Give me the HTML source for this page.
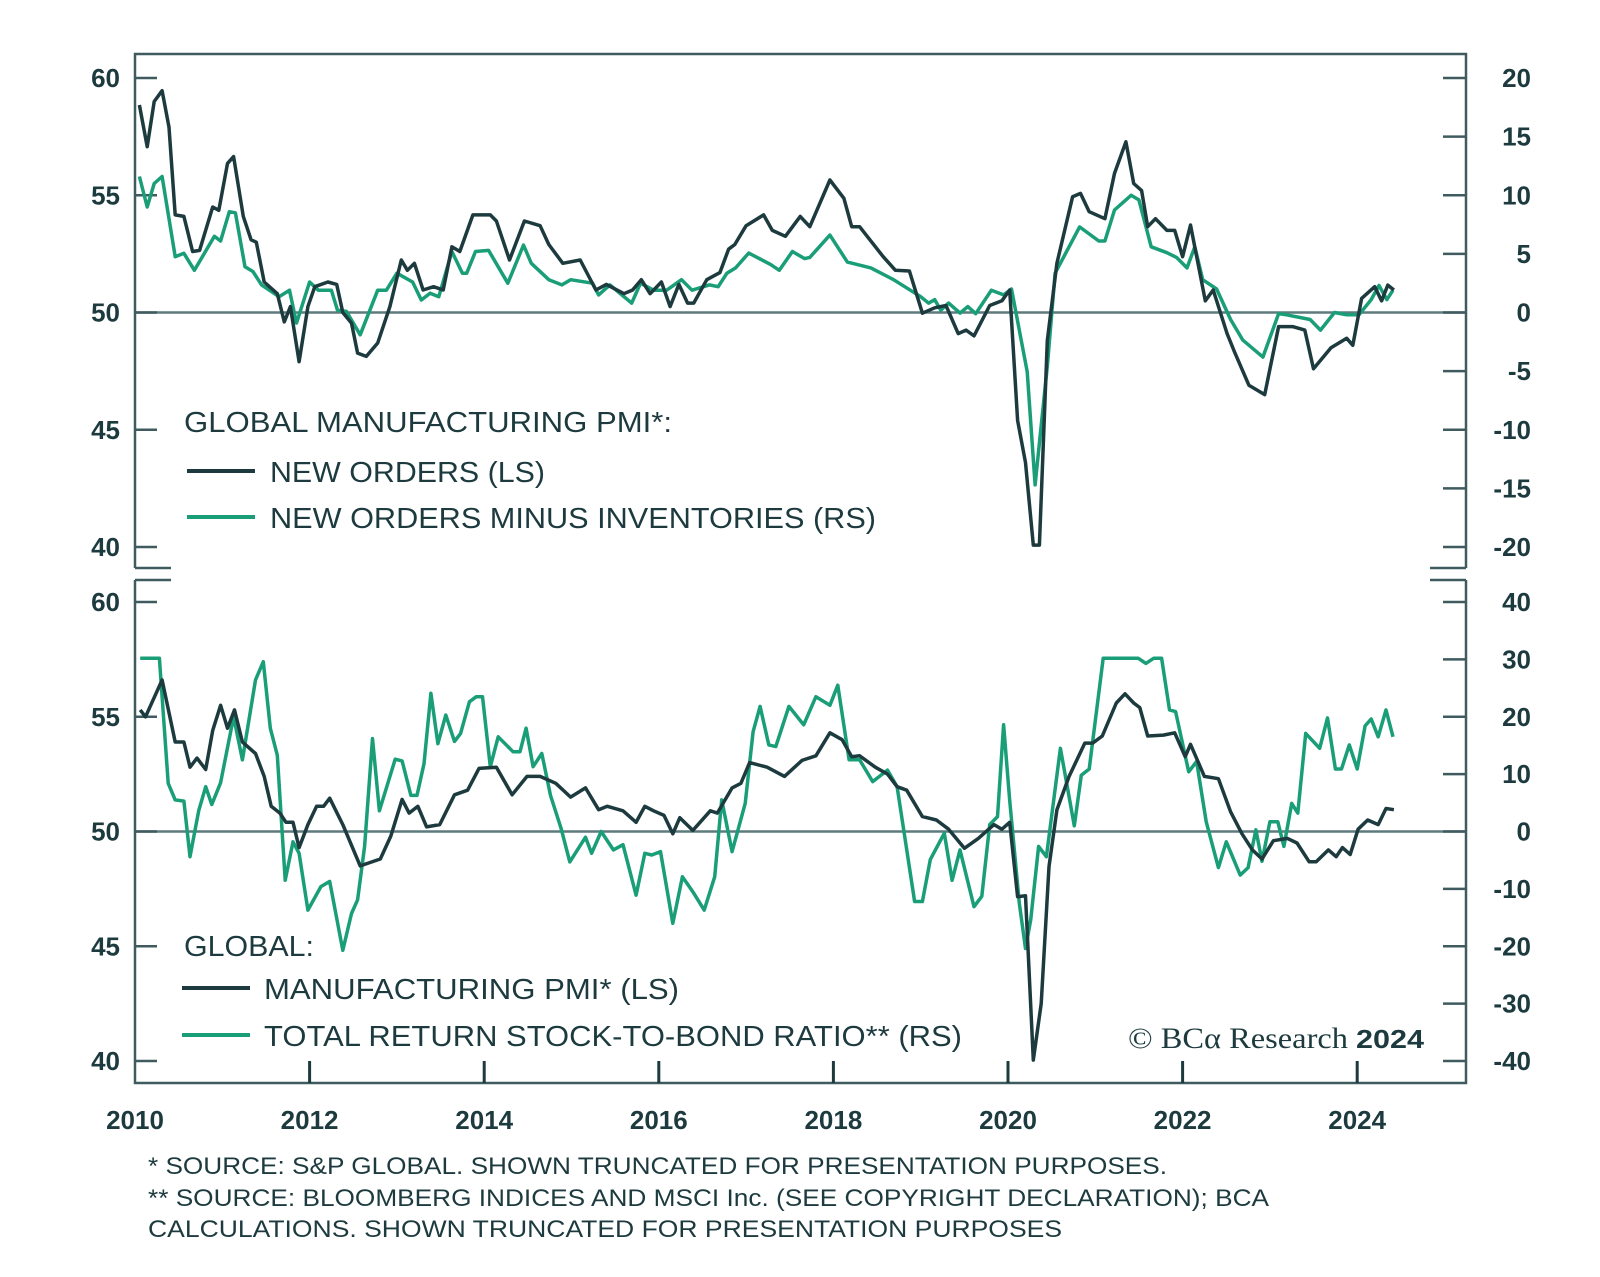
<!DOCTYPE html>
<html><head><meta charset="utf-8"><style>
html,body{margin:0;padding:0;background:#fff;}
svg{display:block;font-family:"Liberation Sans",sans-serif;}
</style></head><body>
<svg id="chart" width="1600" height="1277" viewBox="0 0 1600 1277" xmlns="http://www.w3.org/2000/svg">
<g id="frame"></g>
<g id="lines"></g>
<g id="labels"></g>
<g fill="#1d3b3f" font-size="29">
<text x="184" y="432" textLength="488" lengthAdjust="spacingAndGlyphs">GLOBAL MANUFACTURING PMI*:</text>
<line x1="187" y1="471" x2="255" y2="471" stroke="#1d3b3f" stroke-width="4"/>
<text x="270" y="482" textLength="275" lengthAdjust="spacingAndGlyphs">NEW ORDERS (LS)</text>
<line x1="187" y1="517" x2="255" y2="517" stroke="#1a9e78" stroke-width="4"/>
<text x="270" y="528" textLength="606" lengthAdjust="spacingAndGlyphs">NEW ORDERS MINUS INVENTORIES (RS)</text>
</g>
<g fill="#1d3b3f" font-size="29">
<text x="184" y="956" textLength="130" lengthAdjust="spacingAndGlyphs">GLOBAL:</text>
<line x1="182" y1="988" x2="250" y2="988" stroke="#1d3b3f" stroke-width="4"/>
<text x="264" y="999" textLength="415" lengthAdjust="spacingAndGlyphs">MANUFACTURING PMI* (LS)</text>
<line x1="182" y1="1035" x2="250" y2="1035" stroke="#1a9e78" stroke-width="4"/>
<text x="264" y="1046" textLength="698" lengthAdjust="spacingAndGlyphs">TOTAL RETURN STOCK-TO-BOND RATIO** (RS)</text>
</g>
<g fill="#1d3b3f">
<text x="1128" y="1048" font-family="'Liberation Serif',serif" font-size="30" textLength="220" lengthAdjust="spacingAndGlyphs">© BCα Research</text>
<text x="1356" y="1048" font-size="26" font-weight="bold" textLength="68" lengthAdjust="spacingAndGlyphs">2024</text>
</g>
<g fill="#1d3b3f" font-size="24">
<text x="148" y="1174" textLength="1019" lengthAdjust="spacingAndGlyphs">* SOURCE: S&amp;P GLOBAL. SHOWN TRUNCATED FOR PRESENTATION PURPOSES.</text>
<text x="148" y="1206" textLength="1121" lengthAdjust="spacingAndGlyphs">** SOURCE: BLOOMBERG INDICES AND MSCI Inc. (SEE COPYRIGHT DECLARATION); BCA</text>
<text x="148" y="1237" textLength="914" lengthAdjust="spacingAndGlyphs">CALCULATIONS. SHOWN TRUNCATED FOR PRESENTATION PURPOSES</text>
</g>
</svg>
<script>
// ---- data ----
const noDates=[2010.05,2010.14,2010.22,2010.31,2010.39,2010.46,2010.56,2010.66,2010.74,2010.89,2010.96,2011.06,2011.13,2011.24,2011.33,2011.39,2011.48,2011.63,2011.71,2011.78,2011.88,2011.98,2012.06,2012.21,2012.31,2012.38,2012.48,2012.55,2012.65,2012.78,2012.92,2013.05,2013.12,2013.2,2013.3,2013.42,2013.53,2013.63,2013.72,2013.87,2014.07,2014.14,2014.29,2014.46,2014.64,2014.74,2014.9,2015.1,2015.28,2015.4,2015.6,2015.7,2015.8,2015.9,2016.03,2016.13,2016.23,2016.33,2016.4,2016.55,2016.7,2016.8,2016.87,2017.0,2017.2,2017.3,2017.45,2017.62,2017.73,2017.96,2018.12,2018.21,2018.3,2018.57,2018.71,2018.87,2019.02,2019.16,2019.29,2019.43,2019.52,2019.61,2019.79,2019.93,2020.02,2020.11,2020.2,2020.29,2020.36,2020.45,2020.56,2020.74,2020.83,2020.93,2021.11,2021.22,2021.35,2021.44,2021.53,2021.6,2021.69,2021.82,2021.91,2022.0,2022.09,2022.26,2022.35,2022.51,2022.6,2022.76,2022.94,2023.1,2023.26,2023.4,2023.5,2023.7,2023.88,2023.95,2024.05,2024.2,2024.28,2024.35,2024.42];
const newOrders=[58.85,57.07,59.0,59.46,57.9,54.16,54.1,52.6,52.65,54.5,54.36,56.36,56.65,54.1,53.1,53.0,51.3,50.8,49.6,50.25,47.9,50.25,51.1,51.3,51.2,50.0,49.55,48.27,48.13,48.7,50.25,52.24,51.8,52.1,50.96,51.1,50.96,52.8,52.6,54.16,54.16,53.9,52.24,53.9,53.7,52.9,52.1,52.24,50.96,51.2,50.8,50.96,51.4,50.8,51.3,50.25,51.2,50.4,50.4,51.4,51.7,52.7,52.9,53.7,54.16,53.5,53.25,54.1,53.66,55.65,54.87,53.66,53.66,52.38,51.8,51.77,49.97,50.2,50.3,49.1,49.25,49.0,50.3,50.5,50.96,45.4,43.6,40.08,40.08,48.8,52.1,54.94,55.08,54.3,54.0,55.93,57.28,55.5,55.2,53.66,54.0,53.5,53.5,52.38,53.73,50.5,50.96,49.1,48.27,46.9,46.5,49.4,49.4,49.25,47.6,48.5,48.9,48.6,50.6,51.1,50.5,51.17,50.96];
const nmiDates=[2010.05,2010.14,2010.22,2010.31,2010.46,2010.56,2010.68,2010.91,2010.98,2011.08,2011.15,2011.26,2011.35,2011.45,2011.65,2011.77,2011.85,2012.0,2012.1,2012.25,2012.32,2012.42,2012.58,2012.78,2012.88,2013.0,2013.18,2013.28,2013.38,2013.48,2013.63,2013.75,2013.8,2013.9,2014.05,2014.27,2014.45,2014.54,2014.74,2014.89,2014.99,2015.24,2015.31,2015.44,2015.69,2015.79,2015.94,2016.09,2016.26,2016.38,2016.58,2016.68,2016.78,2016.88,2017.03,2017.28,2017.38,2017.53,2017.67,2017.73,2017.96,2018.16,2018.43,2018.69,2019.0,2019.09,2019.16,2019.23,2019.32,2019.45,2019.54,2019.63,2019.81,2019.95,2020.04,2020.22,2020.31,2020.45,2020.54,2020.82,2021.04,2021.11,2021.22,2021.41,2021.5,2021.64,2021.82,2021.93,2022.05,2022.14,2022.23,2022.39,2022.55,2022.69,2022.92,2023.1,2023.19,2023.46,2023.58,2023.74,2023.88,2024.02,2024.16,2024.25,2024.34,2024.41];
const newMinusInv=[11.6,9.0,11.0,11.6,4.76,5.05,3.6,6.5,6.1,8.6,8.5,3.9,3.5,2.35,1.35,1.9,-0.9,2.6,1.9,1.9,0.2,0.1,-1.9,1.9,1.9,3.35,2.6,1.07,1.65,1.35,5.2,3.35,3.35,5.2,5.3,2.5,5.75,4.2,2.8,2.35,2.8,2.5,1.5,2.35,0.8,2.5,1.9,1.9,2.8,1.9,2.35,2.2,3.35,3.8,5.07,4.1,3.6,5.2,4.6,4.7,6.6,4.3,3.8,2.8,1.35,0.8,1.1,0.2,0.8,-0.05,0.5,-0.1,1.9,1.5,2.0,-5.05,-14.7,-4.6,3.35,7.3,6.1,6.1,8.74,10.0,9.6,5.6,5.1,4.7,3.8,5.6,2.8,2.0,-0.6,-2.35,-3.8,-0.1,-0.2,-0.6,-1.5,0,-0.2,-0.2,1.1,2.3,1.1,1.9,1.65];
const pmiDates=[2010.06,2010.12,2010.31,2010.46,2010.56,2010.63,2010.71,2010.81,2010.89,2010.98,2011.06,2011.14,2011.23,2011.38,2011.48,2011.56,2011.66,2011.73,2011.81,2011.88,2011.98,2012.08,2012.16,2012.23,2012.38,2012.58,2012.81,2012.93,2013.06,2013.14,2013.24,2013.34,2013.49,2013.66,2013.81,2013.94,2014.14,2014.32,2014.49,2014.64,2014.82,2014.99,2015.16,2015.31,2015.41,2015.59,2015.74,2015.84,2015.94,2016.06,2016.16,2016.24,2016.39,2016.59,2016.67,2016.84,2016.94,2017.04,2017.24,2017.44,2017.64,2017.8,2017.96,2018.1,2018.21,2018.3,2018.48,2018.62,2018.73,2018.84,2019.02,2019.18,2019.32,2019.5,2019.66,2019.84,2019.93,2020.02,2020.11,2020.2,2020.29,2020.38,2020.47,2020.56,2020.7,2020.88,2020.97,2021.08,2021.24,2021.34,2021.44,2021.51,2021.6,2021.78,2021.91,2022.03,2022.09,2022.25,2022.41,2022.55,2022.68,2022.8,2022.91,2023.04,2023.2,2023.31,2023.45,2023.53,2023.67,2023.76,2023.83,2023.92,2024.01,2024.12,2024.24,2024.33,2024.42];
const pmi=[55.3,55.0,56.6,53.9,53.9,52.8,53.2,52.7,54.4,55.5,54.5,55.3,53.9,53.4,52.4,51.1,50.8,50.4,50.4,49.3,50.3,51.1,51.1,51.45,50.3,48.5,48.8,49.8,51.4,50.8,51.1,50.2,50.3,51.6,51.8,52.75,52.8,51.6,52.4,52.4,52.1,51.5,51.9,50.95,51.1,50.9,50.4,51.1,50.9,50.7,49.9,50.6,50.05,50.9,50.8,51.9,52.1,53.0,52.8,52.4,53.1,53.3,54.3,54.0,53.26,53.3,52.8,52.5,51.95,51.8,50.65,50.5,50.1,49.27,49.7,50.3,50.1,50.4,47.16,47.2,40.04,42.5,48.47,50.94,52.4,53.85,53.85,54.16,55.6,56.0,55.6,55.4,54.16,54.2,54.3,53.26,53.8,52.4,52.3,50.86,49.9,49.2,48.8,49.6,49.7,49.5,48.68,48.68,49.2,48.9,49.3,49.0,50.1,50.5,50.3,51.0,50.95];
const sbDates=[2010.06,2010.28,2010.38,2010.46,2010.56,2010.63,2010.73,2010.81,2010.88,2010.98,2011.13,2011.23,2011.38,2011.47,2011.55,2011.63,2011.72,2011.81,2011.88,2011.98,2012.13,2012.23,2012.38,2012.48,2012.55,2012.63,2012.72,2012.8,2012.98,2013.06,2013.16,2013.23,2013.31,2013.39,2013.47,2013.56,2013.66,2013.73,2013.83,2013.91,2013.98,2014.07,2014.16,2014.33,2014.41,2014.48,2014.56,2014.66,2014.76,2014.88,2014.98,2015.16,2015.23,2015.34,2015.48,2015.59,2015.74,2015.84,2015.92,2016.02,2016.16,2016.27,2016.39,2016.52,2016.64,2016.72,2016.84,2016.99,2017.08,2017.16,2017.26,2017.34,2017.49,2017.66,2017.8,2017.96,2018.05,2018.18,2018.3,2018.45,2018.62,2018.73,2018.82,2018.93,2019.02,2019.11,2019.27,2019.36,2019.45,2019.61,2019.7,2019.79,2019.88,2019.95,2020.02,2020.13,2020.2,2020.26,2020.35,2020.44,2020.6,2020.76,2020.84,2020.93,2021.09,2021.49,2021.58,2021.67,2021.76,2021.85,2021.92,2022.07,2022.16,2022.27,2022.41,2022.5,2022.66,2022.75,2022.84,2022.91,2023.0,2023.09,2023.16,2023.25,2023.32,2023.41,2023.57,2023.66,2023.75,2023.82,2023.91,2024.0,2024.09,2024.16,2024.24,2024.33,2024.41];
const stockBond=[30.2,30.2,8.4,5.5,5.3,-4.4,3.6,7.8,4.7,8.5,20.0,12.5,26.4,29.6,18.0,13.3,-8.5,-1.8,-3.8,-13.7,-9.6,-8.7,-20.7,-14.3,-11.9,-2.6,16.2,3.6,12.6,12.3,6.3,6.3,11.8,24.1,15.3,20.3,15.7,17.1,22.6,23.5,23.5,11.3,16.5,13.9,13.9,18.0,11.3,13.6,6.3,0.6,-5.3,-1.0,-3.8,0,-3.2,-2.3,-11.1,-3.8,-4.1,-3.5,-16.0,-7.9,-10.5,-13.7,-7.9,5.5,-3.5,4.9,17.4,21.8,15.1,14.8,21.8,18.6,23.5,22.0,25.5,12.5,12.5,8.7,10.7,7.8,-1.2,-12.2,-12.2,-4.9,-0.3,-8.5,-3.2,-13.1,-11.3,1.2,2.6,18.6,5.4,-12.5,-20.4,-15.4,-2.6,-4.4,14.5,1.0,9.8,10.9,30.2,30.2,29.3,30.2,30.2,21.2,20.9,10.4,12.2,1.7,-6.3,-1.8,-7.6,-6.3,0.3,-5.2,1.7,1.7,-2.6,4.9,3.2,17.1,14.5,19.8,10.9,10.9,15.1,10.9,18.4,19.6,16.5,21.2,16.5];
const xTicks=[2010,2012,2014,2016,2018,2020,2022,2024];
const topLeftTicks=[60,55,50,45,40];
const topRightTicks=[20,15,10,5,0,-5,-10,-15,-20];
const botLeftTicks=[60,55,50,45,40];
const botRightTicks=[40,30,20,10,0,-10,-20,-30,-40];

// ---- scales ----
const L=135,R=1466;
const x=t=>L+(t-2010)*87.3;
const yTopL=v=>78+(60-v)*23.45;
const yTopR=v=>78+(20-v)*11.725;
const yBotL=v=>602+(60-v)*22.95;
const yBotR=v=>602+(40-v)*5.7375;
const NS='http://www.w3.org/2000/svg';
const DARK='#1d3b3f',GREEN='#1a9e78',AX='#3f5b5f';
function mk(tag,attrs,parent){const e=document.createElementNS(NS,tag);for(const k in attrs)e.setAttribute(k,attrs[k]);parent.appendChild(e);return e;}
const frame=document.getElementById('frame'),lines=document.getElementById('lines'),labels=document.getElementById('labels');

// frame: top panel (54..568), bottom panel (580..1083)
let p=mk('path',{d:`M${L},568 L${L},54 L${R},54 L${R},568 M${L},568 L${L+36},568 M${R},568 L${R-36},568 M${L},580 L${L+36},580 M${R},580 L${R-36},580 M${L},580 L${L},1083 L${R},1083 L${R},580`,fill:'none',stroke:AX,'stroke-width':2.5},frame);


let z1=mk('line',{x1:L,x2:R,y1:yTopL(50),y2:yTopL(50),stroke:'#5f7a7d','stroke-width':2.5},frame);


let z2=mk('line',{x1:L,x2:R,y1:yBotL(50),y2:yBotL(50),stroke:'#5f7a7d','stroke-width':2.5},frame);



function ticks(arr,yf,side,panel){
  arr.forEach(v=>{
    const y=yf(v);
    const tk=mk('line',side==='left'?{x1:L,x2:L+22,y1:y,y2:y}:{x1:R-23,x2:R,y1:y,y2:y},frame);
    tk.setAttribute('stroke',AX);tk.setAttribute('stroke-width',2.5);
    
    
    const t=mk('text',{x:side==='left'?120:1531,y:y+9,'text-anchor':'end','font-size':26,'font-weight':'bold',fill:DARK},labels);
    t.textContent=String(v);
    
    
  });
}
ticks(topLeftTicks,yTopL,'left','top');
ticks(topRightTicks,yTopR,'right','top');
ticks(botLeftTicks,yBotL,'left','bottom');
ticks(botRightTicks,yBotR,'right','bottom');
xTicks.forEach(yr=>{
  const xx=x(yr);
  if(yr>2010){const tk=mk('line',{x1:xx,x2:xx,y1:1061,y2:1083,stroke:DARK,'stroke-width':3},frame);
    
    }
  const t=mk('text',{x:xx,y:1129,'text-anchor':'middle','font-size':26,'font-weight':'bold',fill:DARK},labels);
  t.textContent=String(yr);
  
  
});

function series(dates,vals,yf,color,name){
  const d=dates.map((t,i)=>(i?'L':'M')+x(t).toFixed(1)+','+yf(vals[i]).toFixed(1)).join(' ');
  const el=mk('path',{d:d,fill:'none',stroke:color,'stroke-width':3.5,'stroke-linejoin':'round'},lines);
  
  
}
series(nmiDates,newMinusInv,yTopR,GREEN,'new-orders-minus-inventories-line');
series(noDates,newOrders,yTopL,DARK,'new-orders-line');
series(sbDates,stockBond,yBotR,GREEN,'stock-to-bond-ratio-line');
series(pmiDates,pmi,yBotL,DARK,'manufacturing-pmi-line');
</script>
</body></html>
